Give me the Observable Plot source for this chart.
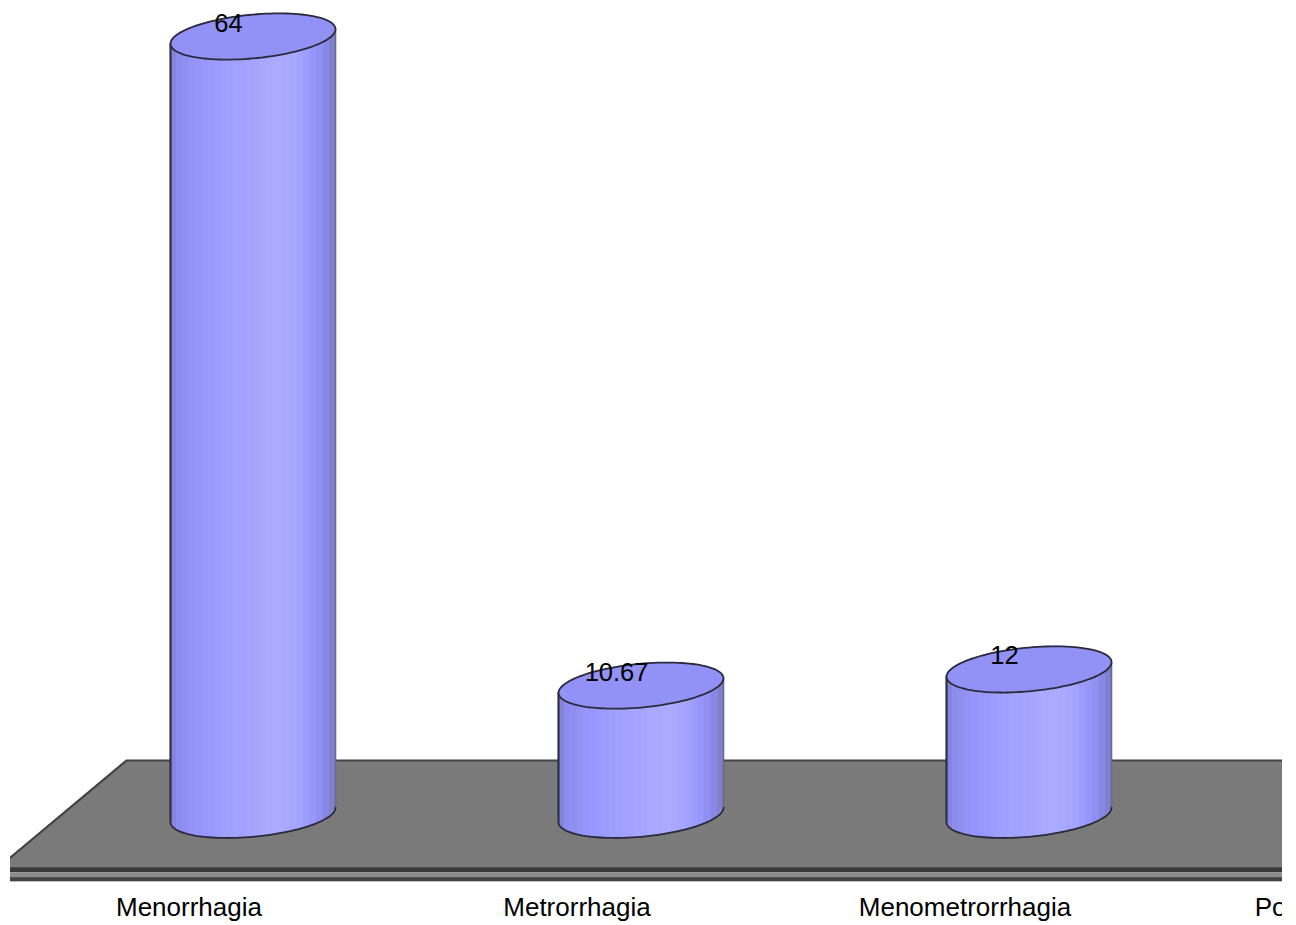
<!DOCTYPE html>
<html>
<head>
<meta charset="utf-8">
<style>
  html, body { margin: 0; padding: 0; background: #fff; }
  svg { display: block; }
</style>
<script src="https://cdn.jsdelivr.net/npm/d3@7"></script>
<script src="https://cdn.jsdelivr.net/npm/@observablehq/plot@0.6"></script>
</head>
<body>
<script>
// Bleeding patterns, percent of cases
const categories = ["Menorrhagia", "Metrorrhagia", "Menometrorrhagia", "Polymenorrhagia"];
const values = [64, 10.67, 12];
const valueLabels = ["64", "10.67", "12"];

// Cylinder proportions, in scale units (x: category steps, y: percent)
const radiusX = 0.2126;
const ellipseRise = 1.8;
const ellipseTilt = 0.6;
const baseLevel = 0.05;

// Shading across a cylinder body, left to right
const shades = ["#8484dc", "#8c8cee", "#8f8ff2", "#9292f7", "#9595fb", "#9797fd", "#9999ff", "#9c9cff",
  "#9e9eff", "#a0a0ff", "#a2a2ff", "#a3a3ff", "#a5a5ff", "#a6a6ff", "#a8a8ff", "#a9a9ff", "#aaaaff", "#aaaaff",
  "#a9a9ff", "#a6a6ff", "#a2a2ff", "#9c9cff", "#9696fb", "#9090f2", "#8888e4", "#8080d0"];

// Floor of the scene, in the same scale units
const floorLeft = -0.625;
const floorBackLeft = -0.326;
const floorRight = 3;
const floorBack = 4.52;
const floorLeftLevel = -3.45;
const floorFront = -4.35;
const trimBands = [
  {top: -4.3, bottom: -4.72, fill: "#3a3a3a"},
  {top: -4.72, bottom: -5.1, fill: "#8c8c8c"},
  {top: -5.1, bottom: -5.45, fill: "#444444"}
];
const labelLevel = -7.6;
const categoryLabelShift = -0.165;
const valueLabelShift = -0.063;
const valueLabelRise = 1.08;

// Point on a tilted ellipse, t in radians from the right-hand end
const ellipsePoint = (i, level, t) => ({
  x: i + radiusX * Math.cos(t),
  y: level + ellipseRise * Math.sin(t) + ellipseTilt * Math.cos(t)
});
const angles = d3.range(0, 121).map((k) => (k / 120) * 2 * Math.PI);

const cylinders = values.map((value, i) => ({i, value}));

// Position across the body (-1 left, 1 right) with its lower rim and top levels
const bodyPoint = (i, value, c) => ({
  x: i + radiusX * c,
  y1: baseLevel - ellipseRise * Math.sqrt(Math.max(0, 1 - c * c)) + ellipseTilt * c,
  y2: value + ellipseTilt * c
});

// Solid silhouette under the strips, so that no floor shows through their seams
const silhouette = cylinders.flatMap(({i, value}) =>
  d3.range(0, 61).map((k) => ({i, ...bodyPoint(i, value, -1 + k / 30)}))
);

// Vertical shaded strips making up each body, bottoms following the lower rim
const strips = cylinders.flatMap(({i, value}) =>
  shades.flatMap((fill, s) => [s, s + 1].map((e) => ({
    id: `${i}-${s}`,
    fill,
    ...bodyPoint(i, value, -1 + (2 * e) / shades.length)
  })))
);

// Rim outlines and cap surfaces
const topRims = cylinders.flatMap(({i, value}) => angles.map((t) => ({i, ...ellipsePoint(i, value, t)})));
const bottomRims = cylinders.flatMap(({i}) =>
  angles.filter((t) => t >= Math.PI - 0.001).map((t) => ({i, ...ellipsePoint(i, baseLevel - 0.0, t)}))
);
const capSurface = cylinders.flatMap(({i, value}) =>
  d3.range(0, 61).map((k) => {
    const t = (k / 60) * Math.PI;
    const up = ellipsePoint(i, value, t);
    const down = ellipsePoint(i, value, -t);
    return {i, x: up.x, y1: up.y, y2: down.y};
  })
);
const sideEdges = cylinders.flatMap(({i, value}) =>
  [-1, 1].map((side) => ({
    x: i + side * radiusX,
    y1: baseLevel + side * ellipseTilt,
    y2: value + side * ellipseTilt,
    stroke: side < 0 ? "#2e2e44" : "#6a6a88",
    width: side < 0 ? 2.2 : 1.6
  }))
);

const floorShape = [
  {x: floorLeft, y1: floorFront, y2: floorLeftLevel},
  {x: floorBackLeft, y1: floorFront, y2: floorBack},
  {x: floorRight, y1: floorFront, y2: floorBack}
];
const floorEdge = [
  {x: floorLeft, y: floorLeftLevel},
  {x: floorBackLeft, y: floorBack},
  {x: floorRight, y: floorBack}
];

const font = "'Liberation Sans', Arial, sans-serif";

const chart = Plot.plot({
  width: 1296,
  height: 925,
  marginTop: 0,
  marginBottom: 0,
  marginLeft: 10,
  marginRight: 14,
  x: {type: "linear", domain: [0, 3], range: [252.5, 1416.5], axis: null},
  y: {type: "linear", domain: [0, 64], range: [815, 36], axis: null},
  style: {background: "#fff", fontFamily: font},
  marks: [
    // floor
    Plot.areaY(floorShape, {x: "x", y1: "y1", y2: "y2", fill: "#7a7a7a", clip: "frame"}),
    Plot.line(floorEdge, {x: "x", y: "y", stroke: "#444", strokeWidth: 2.2, clip: "frame"}),
    Plot.rect(trimBands, {x1: floorLeft, x2: floorRight, y1: "bottom", y2: "top", fill: "fill", clip: "frame"}),

    // bodies
    Plot.areaY(silhouette, {x: "x", y1: "y1", y2: "y2", z: "i", fill: "#a0a0ff"}),
    Plot.areaY(strips, {x: "x", y1: "y1", y2: "y2", z: "id", fill: "fill"}),
    Plot.ruleX(sideEdges, {x: "x", y1: "y1", y2: "y2", stroke: "stroke", strokeWidth: "width"}),
    Plot.line(bottomRims, {x: "x", y: "y", z: "i", stroke: "#2a2a3c", strokeWidth: 1.8}),

    // top caps
    Plot.areaY(capSurface, {x: "x", y1: "y1", y2: "y2", z: "i", fill: "#9292f6"}),
    Plot.line(topRims, {x: "x", y: "y", z: "i", stroke: "#2a2a3c", strokeWidth: 1.8}),

    // value labels
    Plot.text(cylinders, {
      x: (d) => d.i + valueLabelShift,
      y: (d) => d.value + valueLabelRise,
      text: (d) => valueLabels[d.i],
      fontSize: 25.5,
      fill: "#000",
      textAnchor: "middle"
    }),

    // category labels
    Plot.text(categories, {
      x: (d, i) => i + categoryLabelShift,
      y: labelLevel,
      text: (d) => d,
      fontSize: 26,
      fill: "#000",
      textAnchor: "middle",
      clip: "frame"
    })
  ]
});
document.body.append(chart);
</script>
</body>
</html>
